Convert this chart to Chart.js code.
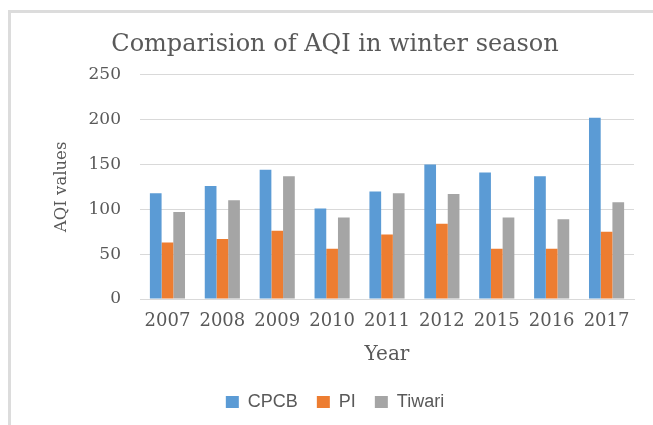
<!DOCTYPE html>
<html>
<head>
<meta charset="utf-8">
<script src="https://cdn.jsdelivr.net/npm/chart.js@4/dist/chart.umd.min.js"></script>
<style>
  html, body { margin: 0; padding: 0; background: #ffffff; overflow: hidden; }
  #wrap { position: relative; width: 653px; height: 425px; overflow: hidden; }
  .edge { position: absolute; background: #dcdcdc; }
  #edgeLeft { left: 8px; top: 10px; width: 3px; height: 415px; }
  #edgeTop  { left: 8px; top: 10px; width: 645px; height: 3px; }
  #chart { position: absolute; left: 0; top: 0; }
</style>
</head>
<body>
<div id="wrap">
  <div class="edge" id="edgeLeft"></div>
  <div class="edge" id="edgeTop"></div>
  <canvas id="chart" width="653" height="425"></canvas>
</div>
<script>
// Years on the category axis
const years = ['2007', '2008', '2009', '2010', '2011', '2012', '2015', '2016', '2017'];

// AQI values per source
const cpcb   = [118, 126, 144, 101, 120, 150, 141, 137, 202];
const pi     = [63, 67, 76, 56, 72, 84, 56, 56, 75];
const tiwari = [97, 110, 137, 91, 118, 117, 91, 89, 108];

// Value axis ticks
const yTicks = [0, 50, 100, 150, 200, 250];

const grey = '#595959';
const serif = 'DejaVu Serif';

new Chart(document.getElementById('chart'), {
  type: 'bar',
  data: {
    labels: years,
    datasets: [
      { label: 'CPCB',   data: cpcb,   backgroundColor: '#5B9BD5' },
      { label: 'PI',     data: pi,     backgroundColor: '#ED7D31' },
      { label: 'Tiwari', data: tiwari, backgroundColor: '#A5A5A5' }
    ]
  },
  options: {
    responsive: false,
    animation: false,
    devicePixelRatio: 1,
    layout: { padding: { left: 36, right: 19, top: 10, bottom: 4 } },
    datasets: { bar: { categoryPercentage: 0.64, barPercentage: 1.0 } },
    plugins: {
      title: {
        display: true,
        text: 'Comparision of AQI in winter season',
        color: grey,
        font: { family: serif, size: 24, weight: 'normal' },
        padding: { top: 20, bottom: 16 }
      },
      legend: {
        position: 'bottom',
        labels: {
          color: grey,
          font: { family: 'Liberation Sans', size: 18 },
          boxWidth: 13,
          boxHeight: 12,
          padding: 19
        }
      },
      tooltip: { enabled: false }
    },
    scales: {
      x: {
        grid: { display: false, drawTicks: false },
        border: { display: true, color: '#d9d9d9', width: 1 },
        ticks: { color: grey, font: { family: serif, size: 18 }, padding: 12, maxRotation: 0, autoSkip: false },
        title: { display: true, text: 'Year', color: grey,
                 font: { family: serif, size: 20 }, padding: { top: 0, bottom: 7 } },
        afterFit: (s) => { s.height = 75; }
      },
      y: {
        min: 0,
        max: 250,
        afterBuildTicks: (s) => { s.ticks = yTicks.map(v => ({ value: v })); },
        grid: { color: '#d9d9d9', drawTicks: false },
        border: { display: false },
        ticks: { color: grey, font: { family: serif, size: 17 }, padding: 19 },
        title: { display: true, text: 'AQI values', color: grey,
                 font: { family: serif, size: 16.5 }, padding: { top: 16, bottom: 0 } },
        afterFit: (s) => { s.width = 104; }
      }
    }
  }
});
</script>
</body>
</html>
